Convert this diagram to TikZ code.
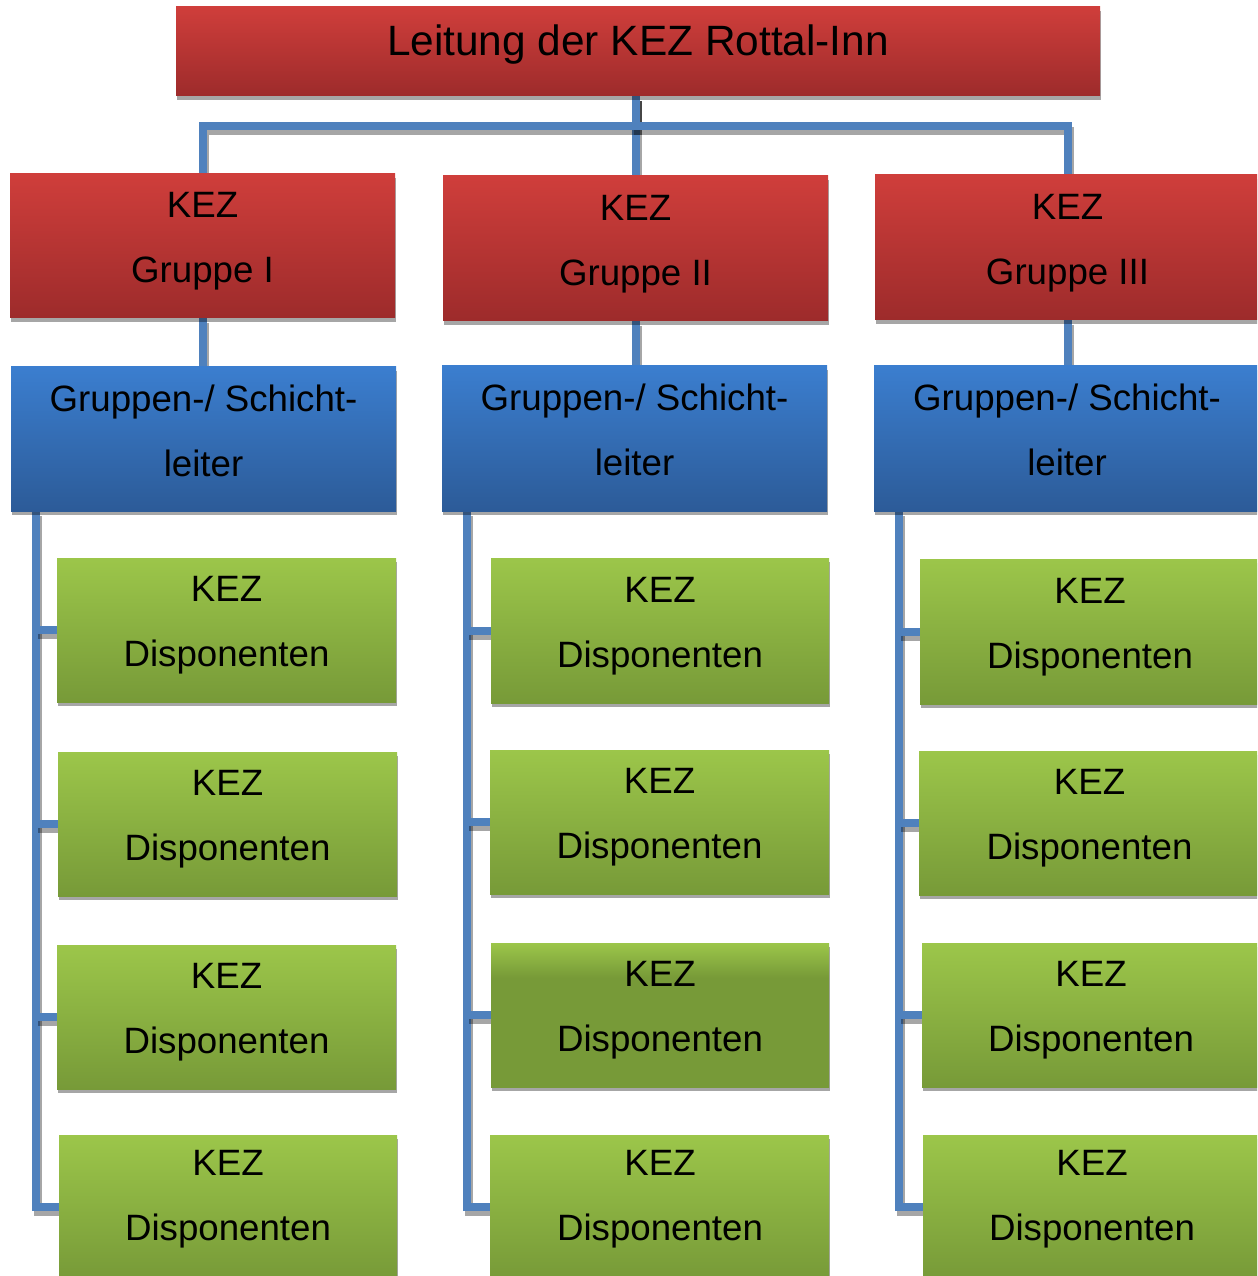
\documentclass[tikz,border=0pt]{standalone}
\usepackage{fontspec}
\setmainfont{Liberation Sans}
\usetikzlibrary{shadows,backgrounds}
\definecolor{redT}{HTML}{CF3E3B}
\definecolor{redB}{HTML}{9D2B2B}
\definecolor{bluT}{HTML}{3B7ECF}
\definecolor{bluB}{HTML}{2C5B98}
\definecolor{grnT}{HTML}{9CC64A}
\definecolor{grnB}{HTML}{779A38}
\definecolor{connC}{HTML}{4F81BD}
\pgfdeclareverticalshading{darkgreenshade}{100bp}{color(0bp)=(grnB); color(25bp)=(grnB); color(63bp)=(grnB); color(75bp)=(grnT); color(100bp)=(grnT)}
\newcommand\mkbox[6]{%
  \pgfmathsetmacro\mybw{(#5-#3)*0.75}%
  \pgfmathsetmacro\mybh{(#6-#4)*0.75}%
  \node[#1, minimum width=\mybw pt, minimum height=\mybh pt] (#2) at ({(#3+#5)/2},{(#4+#6)/2}) {};}
\newcommand\mytext[3]{\node[txt] (#1-t) at ([yshift=#2]#1.center) {#3};}
\begin{document}
\begin{tikzpicture}[x=0.75pt,y=-0.75pt,
  box/.style={rectangle, inner sep=0pt, outer sep=0pt,
    drop shadow={shadow xshift=0.75pt, shadow yshift=-3pt, fill=black, opacity=.35}},
  redbox/.style={box, top color=redT, bottom color=redB},
  bluebox/.style={box, top color=bluT, bottom color=bluB},
  greenbox/.style={box, top color=grnT, bottom color=grnB},
  darkgreenbox/.style={box, shading=darkgreenshade},
  txt/.style={align=center, font=\fontsize{27.5}{48.75}\selectfont, inner sep=0pt, text=black},
  toptxt/.style={txt, font=\fontsize{31.8}{38}\selectfont},
  conn/.style={draw=connC, line width=6pt,
    preaction={draw=black, draw opacity=.35, line width=6pt, transform canvas={shift={(2,5)}}}}
]
\useasboundingbox (0,0) rectangle (1257,1276);
\clip (0,0) rectangle (1257,1276);
% boxes
\mkbox{redbox}{top}{176}{7}{1100}{96}
\mkbox{redbox}{g1}{10}{174}{395}{318}
\mkbox{redbox}{g2}{443}{176}{828}{321}
\mkbox{redbox}{g3}{875}{175}{1260}{320}
\mkbox{bluebox}{b1}{11}{367}{396}{511}
\mkbox{bluebox}{b2}{442}{366}{827}{511}
\mkbox{bluebox}{b3}{874}{366}{1260}{511}
\mkbox{greenbox}{d11}{57}{558}{396}{702}
\mkbox{greenbox}{d12}{58}{752}{397}{896}
\mkbox{greenbox}{d13}{57}{945}{396}{1089}
\mkbox{greenbox}{d14}{59}{1135}{397}{1279}
\mkbox{greenbox}{d21}{491}{558}{829}{703}
\mkbox{greenbox}{d22}{490}{750}{829}{894}
\mkbox{darkgreenbox}{d23}{491}{943}{829}{1087}
\mkbox{greenbox}{d24}{490}{1135}{829}{1279}
\mkbox{greenbox}{d31}{920}{559}{1260}{704}
\mkbox{greenbox}{d32}{919}{751}{1260}{895}
\mkbox{greenbox}{d33}{922}{943}{1260}{1087}
\mkbox{greenbox}{d34}{923}{1135}{1260}{1279}
% texts
\node[toptxt] (top-t) at ([yshift=5.3pt]top.center) {Leitung der KEZ Rottal-Inn};
\mytext{g1}{3.4pt}{KEZ\\Gruppe I}
\mytext{g2}{3.4pt}{KEZ\\Gruppe II}
\mytext{g3}{3.4pt}{KEZ\\Gruppe III}
\mytext{b1}{6.2pt}{Gruppen-/ Schicht-\\leiter}
\mytext{b2}{6.2pt}{Gruppen-/ Schicht-\\leiter}
\mytext{b3}{6.2pt}{Gruppen-/ Schicht-\\leiter}
\foreach \c in {1,2,3}{
  \foreach \r in {1,2,3}{
    \mytext{d\c\r}{3.4pt}{KEZ\\Disponenten}
  }
}
\node[txt] (d14-t) at (228,1199) {KEZ\\Disponenten};
\node[txt] (d24-t) at (660,1199) {KEZ\\Disponenten};
\node[txt] (d34-t) at (1092,1199) {KEZ\\Disponenten};
% connectors
\begin{scope}[on background layer]
\coordinate (barL) at (0,126);
\coordinate (topc) at (top.south -| g2.north);
\draw[conn] (topc) -- (g2.north);
\draw[conn] (topc) |- (g1.north |- barL) -- (g1.north);
\draw[conn] (topc) |- (g3.north |- barL) -- (g3.north);
\foreach \c in {1,2,3}{
  \draw[conn] (g\c.south) -- (g\c.south |- b\c.north);
  \coordinate (bus\c) at ([xshift=18.75pt]b\c.south west);
  \draw[conn] (bus\c) |- (d\c4.west);
  \foreach \r in {1,2,3}{
    \draw[conn] (bus\c |- d\c\r.west) -- (d\c\r.west);
  }
}
\end{scope}
\end{tikzpicture}
\end{document}
